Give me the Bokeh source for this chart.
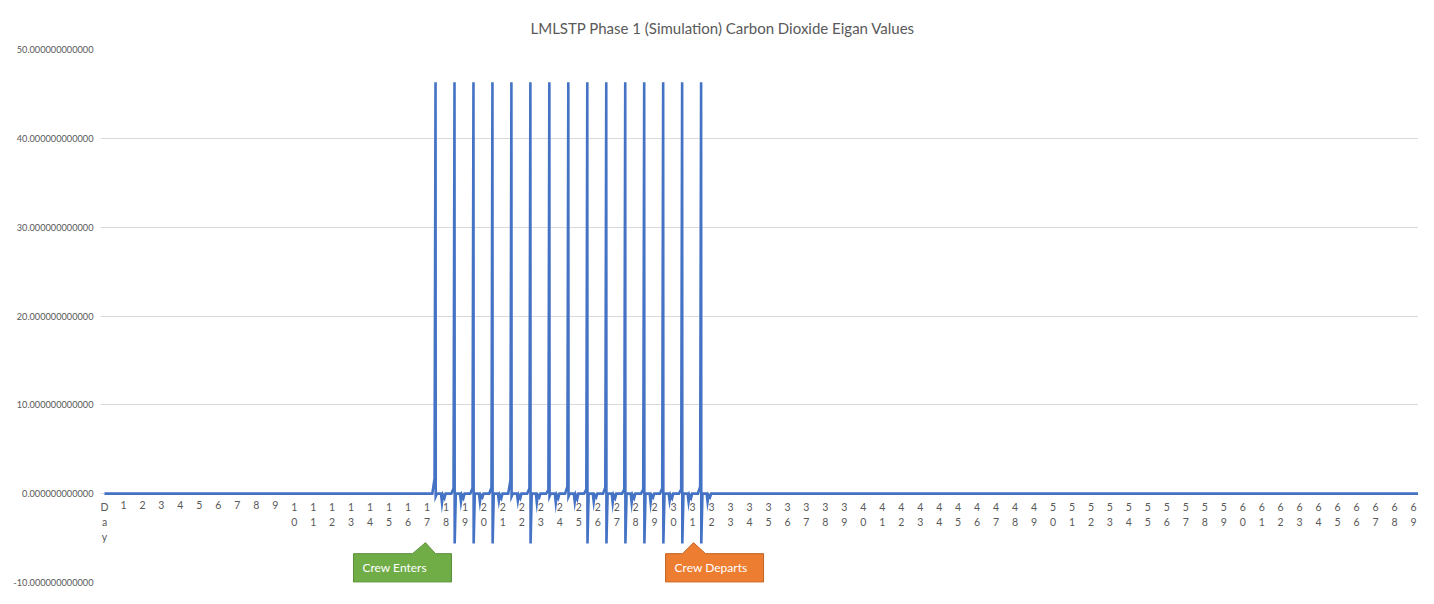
from bokeh.plotting import figure
from bokeh.models import FixedTicker, PrintfTickFormatter, Range1d
from bokeh.embed import file_html
from bokeh.resources import INLINE
from bokeh.core.properties import value

# ---------------- data ----------------
TITLE = "LMLSTP Phase 1 (Simulation) Carbon Dioxide Eigan Values"
day_numbers = list(range(0, 71))
day_labels = ["Day"] + [str(d) for d in range(1, 71)]
y_ticks = [-10, 0, 10, 20, 30, 40, 50]

spike_days   = [17, 18, 19, 20, 21, 22, 23, 24, 25, 26, 27, 28, 29, 30, 31]
spike_peak   = [46.3, 46.3, 46.3, 46.3, 46.3, 46.3, 46.3, 46.3, 46.3, 46.3, 46.3, 46.3, 46.3, 46.3, 46.3]
spike_trough = [-0.3, -5.6, -5.6, -5.6, -0.3, -5.6, -0.3, -0.3, -5.6, -5.6, -5.6, -5.6, -5.6, -5.6, -5.6]
pre_bump     = [1.7, 0.6, 0.6, 0.7, 1.5, 0.6, 0.4, 0.8, 0.5, 0.7, 0.5, 0.5, 0.6, 0.5, 0.8]
dip_first    = [-1.0, -0.9, -0.9, -0.8, -0.8, -1.0, -1.0, -0.9, -0.9, -1.0, -1.0, -1.0, -0.8, -0.9, -0.9]
dip_second   = [-0.5, -0.5, -0.4, -0.5, -0.5, -0.4, -0.5, -0.6, -0.4, -0.5, -0.5, -0.4, -0.5, -0.5, -0.4]
series_start_day = 0
series_end_day = 70.5

crew_enters_day = 17
crew_departs_day = 31
crew_enters_text = "Crew Enters"
crew_departs_text = "Crew Departs"

# --------------- build series ---------------
xs = [series_start_day]
ys = [0.0]
for d, pk, tr, bp, d1, d2 in zip(spike_days, spike_peak, spike_trough, pre_bump, dip_first, dip_second):
    pts = [(0.28, 0.0), (0.40, bp), (0.45, pk), (0.46, tr), (0.52, 0.0),
           (0.74, 0.0), (0.79, d1), (0.84, -0.15), (0.92, d2), (0.98, 0.0)]
    for off, v in pts:
        xs.append(d + off)
        ys.append(v)
xs.append(series_end_day)
ys.append(0.0)

# --------------- geometry ---------------
W, H = 1418, 588
PX_PER_DAY = 18.97
FRAME_LEFT = 100
X0_OFFSET_PX = 4.0          # day 0 lies 4px right of the frame edge
frame_w = W - FRAME_LEFT
x_start = -X0_OFFSET_PX / PX_PER_DAY
x_end = x_start + frame_w / PX_PER_DAY
TOP = 49
BOTTOM = 6
frame_h = H - TOP - BOTTOM
PX_PER_UNIT = frame_h / 60.0

GRAY = "#595959"
BLUE = "#4472C4"
FONT = "Lato"

p = figure(width=W, height=H, output_backend="svg", toolbar_location=None,
           x_range=Range1d(x_start, x_end), y_range=Range1d(-10, 50),
           min_border_left=FRAME_LEFT, min_border_right=0,
           min_border_top=TOP, min_border_bottom=BOTTOM,
           title=TITLE)
p.outline_line_color = None
p.background_fill_color = "white"
p.border_fill_color = "white"

p.title.align = "left"
p.title.offset = 430
p.title.standoff = 26
p.title.text_font = FONT
p.title.text_font_size = "15px"
p.title.text_font_style = "normal"
p.title.text_color = GRAY

p.xaxis.visible = False
p.xgrid.visible = False

p.yaxis.ticker = FixedTicker(ticks=y_ticks)
p.yaxis.formatter = PrintfTickFormatter(format="%.12f")
p.yaxis.axis_line_color = None
p.yaxis.major_tick_line_color = None
p.yaxis.minor_tick_line_color = None
p.yaxis.major_tick_in = 0
p.yaxis.major_tick_out = 0
p.yaxis.major_label_standoff = 7
p.yaxis.major_label_text_font = FONT
p.yaxis.major_label_text_font_size = "9.2px"
p.yaxis.major_label_text_color = GRAY
p.ygrid.ticker = FixedTicker(ticks=y_ticks)
p.ygrid.grid_line_color = "#d9d9d9"
p.ygrid.grid_line_width = 1

# series line
p.line(xs, ys, line_color=BLUE, line_width=2.6, line_join="miter")

# category tick labels, written one character per line, next to the zero line
vertical_labels = ["\n".join(lbl) for lbl in day_labels]
p.text(x=day_numbers, y=[0] * len(day_numbers), text=vertical_labels,
       y_offset=7, text_align="center", text_baseline="top",
       text_font=value(FONT), text_font_size="10.5px", text_color=GRAY,
       text_line_height=1.25)

# callouts
def px_x(px):
    return px / PX_PER_DAY

def px_y(px):
    return -px / PX_PER_UNIT

def callout(day, left_px, right_px, base_l_px, base_r_px, apex_px, label, fill, edge):
    apex_y = px_y(49)
    top_y = px_y(60)
    bot_y = px_y(88.5)
    px_list = [day + px_x(left_px), day + px_x(left_px), day + px_x(base_l_px),
               day + px_x(apex_px), day + px_x(base_r_px), day + px_x(right_px),
               day + px_x(right_px)]
    py_list = [bot_y, top_y, top_y, apex_y, top_y, top_y, bot_y]
    p.patch(px_list, py_list, fill_color=fill, line_color=edge, line_width=1)
    p.text(x=[day + px_x(left_px + 9)], y=[(top_y + bot_y) / 2], text=[label],
           text_align="left", text_baseline="middle", text_font=value(FONT),
           text_font_size="12px", text_color="white")

callout(crew_enters_day, -73.5, 24.5, -14.5, 8.5, -1.5, crew_enters_text, "#70AD47", "#5B8F3A")
callout(crew_departs_day, -27, 71, -10, 13, 1, crew_departs_text, "#ED7D31", "#C0631F")

open("out.html", "w").write(file_html(p, INLINE))
